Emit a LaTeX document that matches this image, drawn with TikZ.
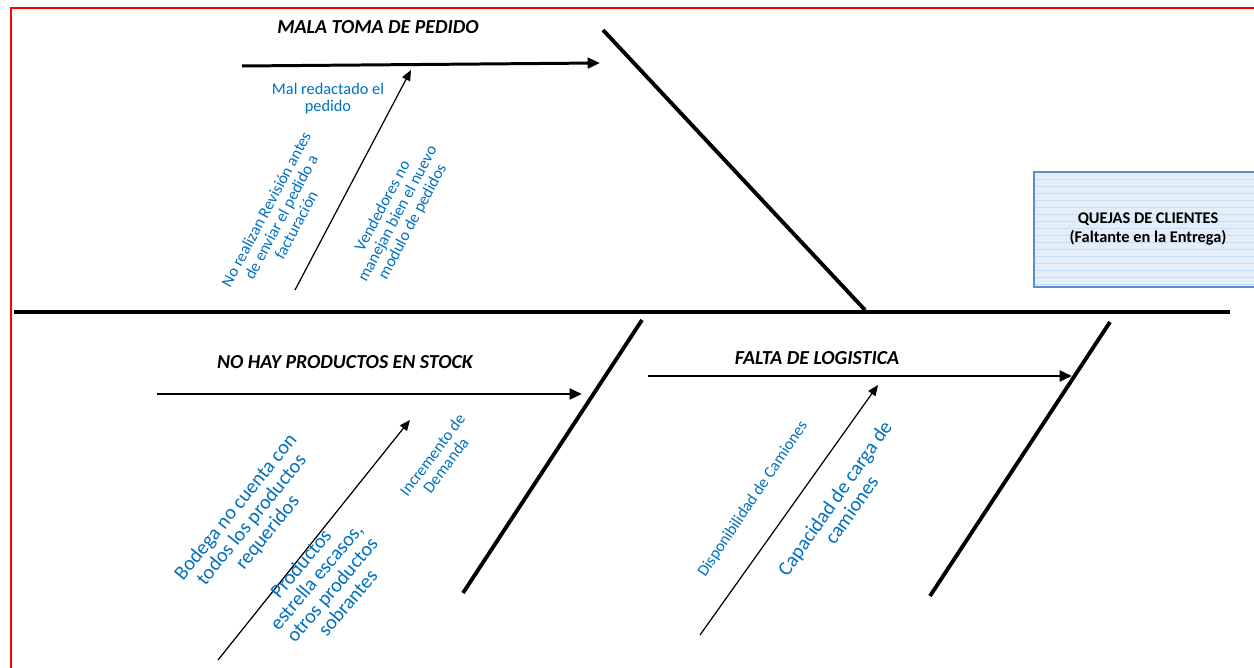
\documentclass[tikz,border=0pt]{standalone}
\usepackage{fontspec}
\setmainfont{Carlito}
\usetikzlibrary{arrows.meta,positioning}
\definecolor{causeblue}{HTML}{0070C0}
\definecolor{effectfill}{HTML}{E3EEF9}
\definecolor{effectrule}{HTML}{C9DDF2}
\definecolor{effectline}{HTML}{5B8FD0}
\tikzset{
  spine/.style={line width=2.8pt},
  bone/.style={line width=2.2pt},
  branch/.style={line width=1.7pt, -{Triangle[length=7pt,width=6pt]}},
  subcause/.style={line width=0.7pt, -{Triangle[length=6pt,width=5pt]}},
  category/.style={font=\bfseries\itshape\fontsize{11.3}{13}\selectfont, inner sep=1pt},
  cause/.style={text=causeblue, align=center, inner sep=1pt, font=\fontsize{9.3}{9.6}\selectfont},
  bigcause/.style={cause, font=\fontsize{11.5}{11.6}\selectfont},
  effect/.style={align=center, font=\bfseries\fontsize{9.3}{10.6}\selectfont},
}

\begin{document}
\begin{tikzpicture}[x=0.02cm,y=-0.02cm]
  \useasboundingbox (0,0) rectangle (1254,668);
  % frame
  \draw[red, line width=1.1pt] (11,668) -- (11,8) -- (1254,8);

  % effect box
  \fill[effectfill] (1034,172) rectangle (1254,287);
  \foreach \yy in {179,186,...,285}
    \draw[effectrule, line width=0.3pt] (1035,\yy) -- (1254,\yy);
  \draw[effectline, line width=0.6pt] (1254,172) -- (1034,172) -- (1034,287) -- (1254,287);
  \node[effect] (quejas) at (1148,229) {QUEJAS DE CLIENTES\\(Faltante en la Entrega)};

  % spine and bones
  \coordinate (tail) at (14,312);
  \coordinate (head) at (1230,312);
  \coordinate (topbone) at (603,30);
  \coordinate (topfoot) at (865,310);
  \coordinate (stockbone) at (642,320);
  \coordinate (stockfoot) at (463,593);
  \coordinate (logbone) at (1110,322);
  \coordinate (logfoot) at (930,596);
  \draw[spine] (tail) -- (head);
  \draw[bone] (topbone) -- (topfoot);
  \draw[bone] (stockbone) -- (stockfoot);
  \draw[bone] (logbone) -- (logfoot);

  % categories
  \node[category] (malatoma) at (378,27) {MALA TOMA DE PEDIDO};
  \node[category] (nohay) at (345,362) {NO HAY PRODUCTOS EN STOCK};
  \node[category] (logistica) at (817,358) {FALTA DE LOGISTICA};
  \coordinate (pedidostart) at (242,66);
  \coordinate (pedidoend) at (600,63);
  \coordinate (stockstart) at (157,394);
  \coordinate (stockend) at (582,394);
  \coordinate (logstart) at (648,376);
  \coordinate (logend) at (1072,376);
  \draw[branch] (pedidostart) -- (pedidoend);
  \draw[branch] (stockstart) -- (stockend);
  \draw[branch] (logstart) -- (logend);

  % sub-causes
  \coordinate (pedidolow) at (295,290);
  \coordinate (pedidohigh) at (411,70);
  \coordinate (stocklow) at (218,660);
  \coordinate (stockhigh) at (410,420);
  \coordinate (loglow) at (700,635);
  \coordinate (loghigh) at (878,385);
  \draw[subcause] (pedidolow) -- (pedidohigh);
  \draw[subcause] (stocklow) -- (stockhigh);
  \draw[subcause] (loglow) -- (loghigh);

  \node[cause] (redactado) at (328,99) {Mal redactado el\\pedido};
  \node[cause, rotate=62] (revision) at (281,217) {No realizan Revisión antes\\de enviar el pedido a\\facturación};
  \node[cause, rotate=62] (vendedores) at (398,214) {Vendedores no\\manejan bien el nuevo\\modulo de pedidos};
  \node[bigcause, rotate=51] (bodega) at (252,520) {Bodega no cuenta con\\todos los productos\\requeridos};
  \node[bigcause, rotate=50] (estrella) at (324,583) {Productos\\estrella escasos,\\otros productos\\sobrantes};
  \node[cause, rotate=53] (incremento) at (439,460) {Incremento de\\Demanda};
  \node[cause, rotate=56] (disponible) at (753,499) {Disponibilidad de Camiones};
  \node[bigcause, rotate=55] (capacidad) at (843,504) {Capacidad de carga de\\camiones};
\end{tikzpicture}
\end{document}
